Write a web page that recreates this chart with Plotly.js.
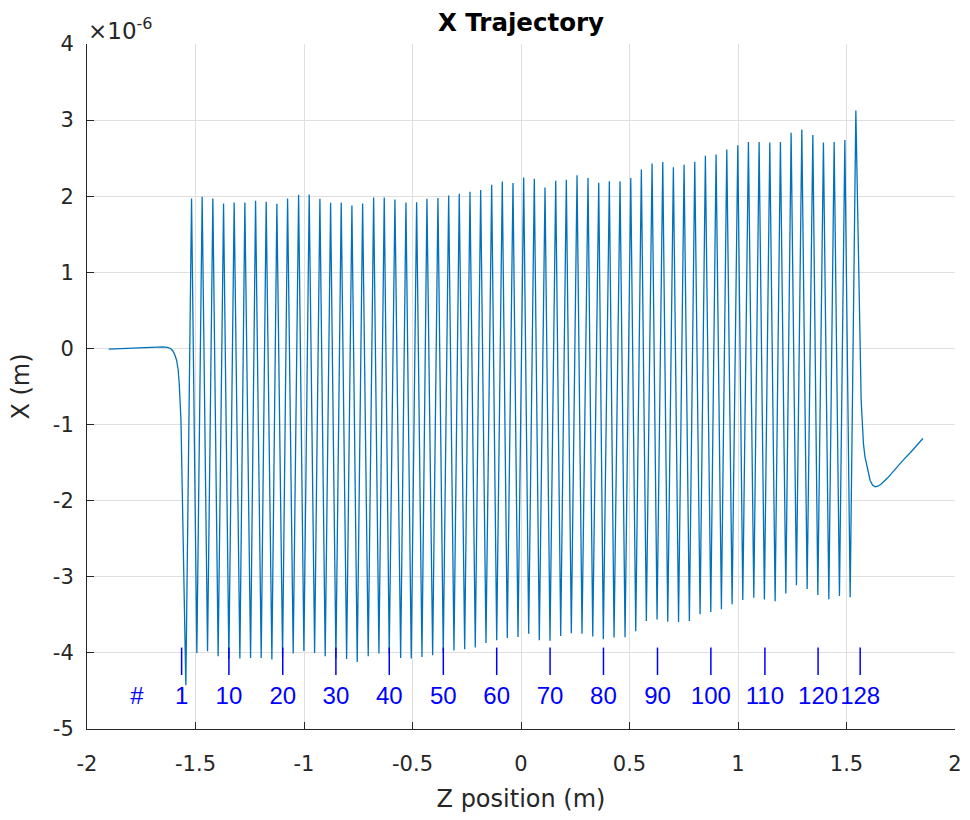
<!DOCTYPE html>
<html><head><meta charset="utf-8">
<script src="https://cdn.plot.ly/plotly-3.0.1.min.js"></script>
<style>html,body{margin:0;padding:0;background:#fff}#plot{width:970px;height:820px}</style>
</head><body><div id="plot"></div>
<script>
// Values of X are in units of 1e-6 m (axis shows x10^-6)
const approachZ = [-1.900, -1.800, -1.700, -1.650, -1.630, -1.615, -1.605, -1.596, -1.587, -1.580, -1.575, -1.570, -1.567];
const approachX = [-0.01, 0.005, 0.018, 0.021, 0.015, 0.000, -0.03, -0.08, -0.154, -0.28, -0.46, -0.70, -0.94];

const minZ = [-1.5445,-1.4938,-1.4445,-1.3956,-1.3462,-1.2955,-1.2462,-1.1973,-1.1480,-1.0987,
  -1.0498,-1.0005,-0.9511,-0.9023,-0.8529,-0.8036,-0.7547,-0.7040,-0.6547,-0.6072,
  -0.5546,-0.5058,-0.4564,-0.4071,-0.3582,-0.3089,-0.2596,-0.2107,-0.1614,-0.1120,
  -0.0632,-0.0138,0.0355,0.0844,0.1337,0.1830,0.2319,0.2812,0.3306,0.3794,
  0.4288,0.4795,0.5288,0.5777,0.6270,0.6763,0.7261,0.7759,0.8253,0.8746,
  0.9235,0.9728,1.0221,1.0728,1.1217,1.1711,1.2204,1.2693,1.3186,1.3679,
  1.4186,1.4675,1.5168];
const minX = [-4.424,-4.000,-3.978,-4.043,-4.079,-4.074,-4.066,-4.066,-4.087,-4.060,
  -4.008,-3.974,-4.000,-4.043,-4.074,-4.079,-4.118,-4.043,-4.008,-4.020,
  -4.066,-4.074,-4.053,-4.030,-4.000,-3.968,-3.951,-3.929,-3.869,-3.833,
  -3.803,-3.790,-3.750,-3.833,-3.842,-3.777,-3.741,-3.750,-3.785,-3.820,
  -3.798,-3.794,-3.715,-3.580,-3.561,-3.590,-3.594,-3.580,-3.491,-3.461,
  -3.426,-3.360,-3.304,-3.277,-3.298,-3.321,-3.219,-3.110,-3.159,-3.238,
  -3.294,-3.251,-3.268];

const maxZ = [-1.5182,-1.4693,-1.4200,-1.3707,-1.3218,-1.2725,-1.2232,-1.1743,-1.1250,-1.0756,
  -1.0249,-0.9760,-0.9267,-0.8774,-0.8285,-0.7792,-0.7298,-0.6791,-0.6302,-0.5809,
  -0.5302,-0.4809,-0.4334,-0.3827,-0.3333,-0.2845,-0.2351,-0.1858,-0.1351,-0.0862,
  -0.0369,0.0124,0.0613,0.1107,0.1600,0.2089,0.2582,0.3089,0.3582,0.4071,
  0.4564,0.5058,0.5546,0.6040,0.6533,0.7022,0.7515,0.8008,0.8497,0.8990,
  0.9484,0.9991,1.0480,1.0973,1.1466,1.1955,1.2448,1.2941,1.3449,1.3937,
  1.4431,1.4924,1.5431];
const maxX = [1.971,1.992,1.971,1.905,1.919,1.919,1.940,1.926,1.900,1.971,
  2.018,2.024,1.966,1.913,1.919,1.879,1.905,1.984,1.984,1.958,
  1.919,1.922,1.966,1.975,2.011,2.032,2.058,2.080,2.150,2.194,
  2.172,2.247,2.229,2.116,2.202,2.216,2.277,2.238,2.176,2.198,
  2.198,2.238,2.352,2.431,2.451,2.382,2.413,2.452,2.531,2.549,
  2.615,2.668,2.711,2.711,2.707,2.711,2.833,2.878,2.803,2.707,
  2.711,2.737,3.127];

const exitZ = [1.5675, 1.572, 1.578, 1.585, 1.594, 1.602, 1.609, 1.620, 1.632, 1.645, 1.660, 1.690, 1.720, 1.760, 1.800, 1.852];
const exitX = [-0.68, -1.00, -1.25, -1.42, -1.556, -1.67, -1.735, -1.795, -1.819, -1.81, -1.78, -1.70, -1.60, -1.47, -1.35, -1.183];

const poleLabels = ['1','10','20','30','40','50','60','70','80','90','100','110','120','128'];
const poleZ = [-1.564,-1.346,-1.098,-0.853,-0.607,-0.358,-0.112,0.134,0.380,0.629,0.875,1.124,1.369,1.563];
const poleTickTop = -3.93, poleTickBottom = -4.29, poleLabelY = -4.595;
const hashZ = -1.770;

const xTicks = [-2,-1.5,-1,-0.5,0,0.5,1,1.5,2];
const xTickText = ['-2','-1.5','-1','-0.5','0','0.5','1','1.5','2'];
const yTicks = [-5,-4,-3,-2,-1,0,1,2,3,4];
const yTickText = ['-5','-4','-3','-2','-1','0','1','2','3','4'];

// assemble trajectory
const trajZ = approachZ.slice(), trajX = approachX.slice();
for (let i = 0; i < minZ.length; i++) {
  trajZ.push(minZ[i]); trajX.push(minX[i]);
  trajZ.push(maxZ[i]); trajX.push(maxX[i]);
}
exitZ.forEach((z, i) => { trajZ.push(z); trajX.push(exitX[i]); });

const tickZ = [], tickY = [];
poleZ.forEach(z => { tickZ.push(z, z, null); tickY.push(poleTickTop, poleTickBottom, null); });

const traces = [
  {x: trajZ, y: trajX, mode: 'lines', line: {color: '#0072BD', width: 1.3}, hoverinfo: 'skip'},
  {x: tickZ, y: tickY, mode: 'lines', line: {color: '#0000FF', width: 1.5}, hoverinfo: 'skip'},
  {x: poleZ.concat([hashZ]), y: poleZ.map(() => poleLabelY).concat([poleLabelY]),
   text: poleLabels.concat(['#']), mode: 'text', textposition: 'middle center',
   textfont: {family: 'Liberation Sans, Arial, sans-serif', size: 24, color: '#0000FF'}, hoverinfo: 'skip'}
];

const axisFont = {family: 'DejaVu Sans, sans-serif', size: 21, color: '#262626'};
const layout = {
  width: 970, height: 820,
  margin: {l: 87, r: 15, t: 44, b: 91},
  paper_bgcolor: '#fff', plot_bgcolor: '#fff',
  showlegend: false,
  title: {text: '<b>X Trajectory</b>', font: {family: 'DejaVu Sans, sans-serif', size: 24.5, color: '#000'},
          x: 0.5, xref: 'paper', y: 1 - 22/820, yref: 'container', yanchor: 'middle'},
  xaxis: {range: [-2, 2], tickvals: xTicks, ticktext: xTickText, showgrid: true, gridcolor: '#dfdfdf',
          zeroline: false, showline: true, linecolor: '#262626', linewidth: 1, ticks: 'inside', ticklen: 7,
          tickcolor: '#262626', tickfont: axisFont, ticklabelstandoff: 16,
          title: {text: 'Z position (m)', font: {family: 'DejaVu Sans, sans-serif', size: 24, color: '#262626'}, standoff: 14}},
  yaxis: {range: [-5, 4], tickvals: yTicks, ticktext: yTickText, showgrid: true, gridcolor: '#dfdfdf',
          zeroline: false, showline: true, linecolor: '#262626', linewidth: 1, ticks: 'inside', ticklen: 7,
          tickcolor: '#262626', tickfont: axisFont, ticklabelstandoff: 8,
          title: {text: 'X (m)', font: {family: 'DejaVu Sans, sans-serif', size: 24, color: '#262626'}, standoff: 16}},
  annotations: [{text: '×10<sup>-6</sup>', xref: 'paper', yref: 'paper', x: 0, y: 1, xanchor: 'left', yanchor: 'bottom',
                 showarrow: false, font: {family: 'DejaVu Sans, sans-serif', size: 23, color: '#262626'}, xshift: -1, yshift: -2}]
};
Plotly.newPlot('plot', traces, layout, {displayModeBar: false, staticPlot: true});
</script></body></html>
